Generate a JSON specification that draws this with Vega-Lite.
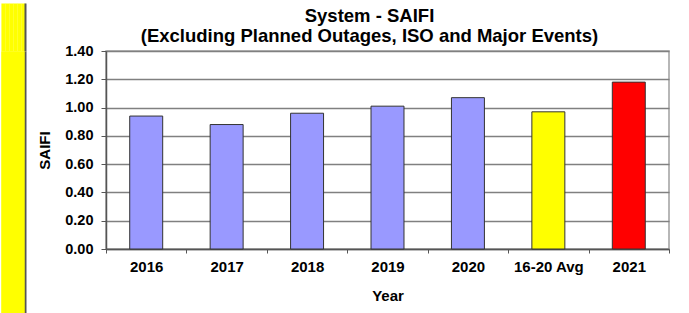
{
  "$schema": "https://vega.github.io/schema/vega-lite/v6.json",
  "padding": 0,
  "background": "white",
  "spacing": 11,
  "config": {
    "font": "Liberation Sans",
    "view": {"stroke": null}
  },
  "datasets": {
    "saifi": [
      {"Year": "2016", "SAIFI": 0.94},
      {"Year": "2017", "SAIFI": 0.88},
      {"Year": "2018", "SAIFI": 0.96},
      {"Year": "2019", "SAIFI": 1.01},
      {"Year": "2020", "SAIFI": 1.07},
      {"Year": "16-20 Avg", "SAIFI": 0.97},
      {"Year": "2021", "SAIFI": 1.18}
    ],
    "frame": [{"v": 0}]
  },
  "hconcat": [
    {
      "width": 23,
      "height": 198,
      "data": {"name": "frame"},
      "mark": {"type": "text", "text": ""},
      "encoding": {
        "x": {
          "field": "v",
          "type": "quantitative",
          "scale": {"domain": [0, 1], "range": [0, 24]},
          "axis": {
            "orient": "top",
            "values": [0.0833333, 0.25, 0.4166667, 0.5833333, 0.75, 0.9166667, 1],
            "domain": false,
            "labels": false,
            "ticks": true,
            "tickSize": 48,
            "tickColor": {"condition": {"test": "datum.value === 1", "value": "#555555"}, "value": "#FFFF00"},
            "tickWidth": {"condition": {"test": "datum.value === 1", "value": 2}, "value": 4.2},
            "tickOpacity": 1,
            "grid": true,
            "gridColor": {"condition": {"test": "datum.value === 1", "value": "#555555"}, "value": "#FFFF00"},
            "gridWidth": {"condition": {"test": "datum.value === 1", "value": 2}, "value": 4.2},
            "gridOpacity": 1,
            "title": null
          }
        },
        "y": {
          "field": "v",
          "type": "quantitative",
          "scale": {"range": [263, 0]},
          "axis": {"orient": "left", "offset": -11.5, "domain": true, "domainColor": "#FFFF00", "domainWidth": 23, "ticks": false, "labels": false, "grid": false, "title": null}
        }
      }
    },
    {
      "width": 563,
      "height": 198,
      "title": {
        "text": ["System - SAIFI", "(Excluding Planned Outages, ISO and Major Events)"],
        "fontSize": 18.5,
        "fontWeight": "bold",
        "lineHeight": 19.5,
        "anchor": "middle",
        "dx": -18,
        "offset": -2,
        "color": "#000000"
      },
      "view": {"stroke": "#a0a0a0", "strokeWidth": 1.5},
      "data": {"name": "saifi"},
      "mark": {"type": "bar", "stroke": "#333333", "strokeWidth": 1, "width": {"band": 0.41}},
      "encoding": {
        "x": {
          "field": "Year",
          "type": "nominal",
          "sort": null,
          "scale": {"paddingInner": 0, "paddingOuter": 0},
          "axis": {
            "title": "Year",
            "labelAngle": 0,
            "tickBand": "extent",
            "tickSize": 4,
            "tickColor": "#555555",
            "domainColor": "#555555",
            "domainWidth": 1.5,
            "grid": false,
            "labelFontSize": 15,
            "labelFontWeight": "bold",
            "labelColor": "#000000",
            "labelPadding": 6,
            "titleFontSize": 15,
            "titleFontWeight": "bold",
            "titleColor": "#000000",
            "titlePadding": 14
          }
        },
        "y": {
          "field": "SAIFI",
          "type": "quantitative",
          "scale": {"domain": [0, 1.4]},
          "axis": {
            "values": [0, 0.2, 0.4, 0.6, 0.8, 1.0, 1.2, 1.4],
            "format": ".2f",
            "title": "SAIFI",
            "titleFontSize": 15,
            "titleFontWeight": "bold",
            "titleColor": "#000000",
            "titlePadding": 12,
            "labelFontSize": 14.5,
            "labelFontWeight": "bold",
            "labelColor": "#000000",
            "labelPadding": 8,
            "tickSize": 5,
            "tickColor": "#555555",
            "domainColor": "#555555",
            "domainWidth": 1.5,
            "gridColor": "#808080",
            "gridWidth": 1.5
          }
        },
        "color": {
          "field": "Year",
          "type": "nominal",
          "scale": {
            "domain": ["2016", "2017", "2018", "2019", "2020", "16-20 Avg", "2021"],
            "range": ["#9999FF", "#9999FF", "#9999FF", "#9999FF", "#9999FF", "#FFFF00", "#FF0000"]
          },
          "legend": null
        }
      }
    }
  ]
}
